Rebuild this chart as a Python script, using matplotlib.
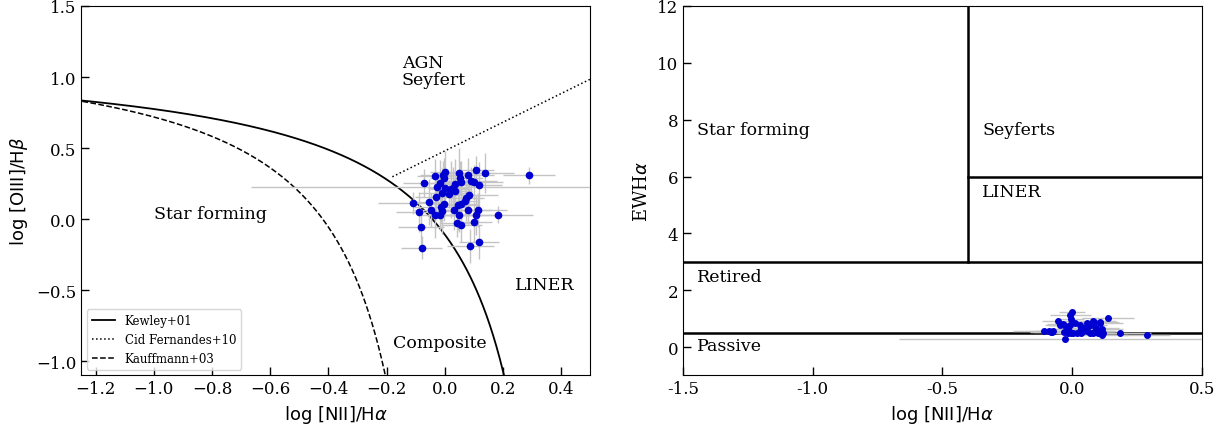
import numpy as np
import matplotlib.pyplot as plt

# log [NII]/Halpha, log [OIII]/Hbeta and EW(Halpha) for each galaxy
nii_ha = [-0.035, 0.0, -0.006, 0.048, 0.08, 0.108, 0.139, 0.289, -0.072, -0.016,
          -0.002, 0.051, 0.057, 0.034, 0.091, 0.10, 0.116, -0.026, 0.002, 0.02,
          0.029, 0.034, -0.008, 0.013, 0.083, -0.031, 0.074, 0.068, -0.108, -0.054,
          -0.002, 0.046, 0.057, -0.014, -0.046, -0.008, 0.031, 0.08, 0.114, -0.087,
          -0.032, -0.015, 0.048, 0.106, 0.184, 0.043, 0.057, 0.102, -0.081, -0.079,
          0.088, 0.118]
oiii_hb = [0.305, 0.33, 0.31, 0.324, 0.31, 0.345, 0.324, 0.31, 0.254, 0.254,
           0.287, 0.287, 0.258, 0.246, 0.27, 0.258, 0.242, 0.223, 0.216, 0.211,
           0.22, 0.20, 0.181, 0.176, 0.171, 0.153, 0.146, 0.129, 0.113, 0.122,
           0.11, 0.103, 0.106, 0.082, 0.066, 0.059, 0.066, 0.061, 0.066, 0.051,
           0.03, 0.026, 0.028, 0.028, 0.03, -0.028, -0.044, -0.019, -0.058, -0.202,
           -0.19, -0.162]
ew_ha = [0.80, 1.22, 1.14, 0.68, 0.91, 0.87, 1.03, 0.41, 0.56, 0.62,
         0.97, 0.64, 0.83, 0.50, 0.68, 0.50, 0.62, 0.29, 0.50, 0.48,
         0.79, 0.64, 0.77, 0.83, 0.87, 0.52, 0.79, 0.48, 0.56, 0.91,
         0.48, 0.68, 0.55, 0.62, 0.79, 0.52, 0.57, 0.50, 0.44, 0.56,
         0.77, 0.48, 0.62, 0.83, 0.50, 0.55, 0.68, 0.57, 0.52, 0.52,
         0.55, 0.50]
x_err = [0.06, 0.05, 0.08, 0.07, 0.09, 0.06, 0.10, 0.09, 0.07, 0.06,
         0.05, 0.08, 0.06, 0.07, 0.09, 0.10, 0.08, 0.64, 0.06, 0.07,
         0.05, 0.06, 0.08, 0.05, 0.10, 0.07, 0.06, 0.05, 0.12, 0.06,
         0.05, 0.07, 0.06, 0.09, 0.06, 0.05, 0.07, 0.08, 0.10, 0.08,
         0.06, 0.05, 0.08, 0.09, 0.12, 0.06, 0.07, 0.06, 0.08, 0.07,
         0.08, 0.07]
y_err = [0.12, 0.15, 0.10, 0.18, 0.12, 0.10, 0.14, 0.06, 0.10, 0.16,
         0.14, 0.12, 0.15, 0.18, 0.10, 0.12, 0.16, 0.10, 0.14, 0.20,
         0.15, 0.12, 0.18, 0.10, 0.14, 0.12, 0.16, 0.10, 0.08, 0.16,
         0.12, 0.18, 0.14, 0.10, 0.12, 0.16, 0.14, 0.10, 0.12, 0.14,
         0.16, 0.10, 0.12, 0.14, 0.06, 0.10, 0.12, 0.14, 0.12, 0.08,
         0.12, 0.12]
ew_err = [0.05, 0.06, 0.04, 0.05, 0.06, 0.05, 0.05, 0.04, 0.05, 0.04,
          0.06, 0.05, 0.04, 0.05, 0.05, 0.04, 0.05, 0.04, 0.05, 0.04,
          0.05, 0.04, 0.05, 0.06, 0.05, 0.04, 0.05, 0.04, 0.05, 0.05,
          0.04, 0.05, 0.04, 0.05, 0.05, 0.04, 0.05, 0.04, 0.05, 0.05,
          0.05, 0.04, 0.05, 0.05, 0.04, 0.04, 0.05, 0.04, 0.05, 0.04,
          0.05, 0.04]

SERIF = 'DejaVu Serif'
GREY = '#c4c4c4'
BLUE = '#0000d0'


def kewley(x):
    return 0.61 / (x - 0.47) + 1.19


def kauffmann(x):
    return 0.61 / (x - 0.05) + 1.3


def cid(x):
    return 1.01 * x + 0.48


def style_ticks(ax):
    ax.tick_params(direction='in', length=6, width=1, labelsize=12)
    for lab in ax.get_xticklabels() + ax.get_yticklabels():
        lab.set_fontfamily(SERIF)


def main():
    fig = plt.figure(figsize=(12.31, 4.31), dpi=100)
    ax1 = fig.add_axes([0.0658, 0.1265, 0.4137, 0.8573])
    ax2 = fig.add_axes([0.5548, 0.1265, 0.4214, 0.8573])

    # BPT diagram
    xk = np.linspace(-1.3, 0.204, 400)
    ax1.plot(xk, kewley(xk), 'k-', lw=1.3, label='Kewley+01')
    xc = np.linspace(-0.18, 0.5, 50)
    ax1.plot(xc, cid(xc), 'k:', lw=1.1, label='Cid Fernandes+10')
    xf = np.linspace(-1.3, -0.204, 400)
    ax1.plot(xf, kauffmann(xf), 'k--', lw=1.1, label='Kauffmann+03')
    ax1.errorbar(nii_ha, oiii_hb, xerr=x_err, yerr=y_err, fmt='o', color=BLUE,
                 ms=4.5, ecolor=GREY, elinewidth=1, capsize=0, zorder=3)
    ax1.set_xlim(-1.25, 0.5)
    ax1.set_ylim(-1.1, 1.5)
    ax1.set_xticks(np.arange(-1.2, 0.41, 0.2))
    ax1.set_yticks([-1.0, -0.5, 0.0, 0.5, 1.0, 1.5])
    ax1.set_xlabel(r'log [NII]/H$\alpha$', fontsize=13)
    ax1.set_ylabel(r'log [OIII]/H$\beta$', fontsize=13)
    txt = dict(fontsize=12.5, family=SERIF, ha='left', va='center')
    ax1.text(-0.148, 1.04, 'AGN\nSeyfert', linespacing=1.0, **txt)
    ax1.text(-1.0, 0.04, 'Star forming', **txt)
    ax1.text(0.241, -0.46, 'LINER', **txt)
    ax1.text(-0.179, -0.87, 'Composite', **txt)
    ax1.legend(loc='lower left', prop={'family': SERIF, 'size': 8.5})
    style_ticks(ax1)

    # WHAN diagram
    ax2.errorbar(nii_ha, ew_ha, xerr=x_err, yerr=ew_err, fmt='o', color=BLUE,
                 ms=4, ecolor=GREY, elinewidth=1, capsize=0, zorder=3)
    ax2.axhline(3, color='k', lw=1.8)
    ax2.axhline(0.5, color='k', lw=1.8)
    ax2.plot([-0.4, -0.4], [3, 12], 'k-', lw=1.8)
    ax2.plot([-0.4, 0.5], [6, 6], 'k-', lw=1.8)
    ax2.set_xlim(-1.5, 0.5)
    ax2.set_ylim(-1, 12)
    ax2.set_xticks([-1.5, -1.0, -0.5, 0.0, 0.5])
    ax2.set_xticklabels(['-1.5', '-1.0', '-0.5', '0.0', '0.5'])
    ax2.set_yticks([0, 2, 4, 6, 8, 10, 12])
    ax2.set_xlabel(r'log [NII]/H$\alpha$', fontsize=13)
    ax2.set_ylabel(r'EWH$\alpha$', fontsize=13, family=SERIF)
    txt2 = dict(fontsize=12.5, family=SERIF, ha='left', va='center')
    ax2.text(-1.446, 7.66, 'Star forming', **txt2)
    ax2.text(-0.347, 7.66, 'Seyferts', **txt2)
    ax2.text(-0.347, 5.48, 'LINER', **txt2)
    ax2.text(-1.446, 2.49, 'Retired', **txt2)
    ax2.text(-1.446, 0.06, 'Passive', **txt2)
    style_ticks(ax2)

    fig.savefig('out.png', dpi=100)


if __name__ == '__main__':
    main()
